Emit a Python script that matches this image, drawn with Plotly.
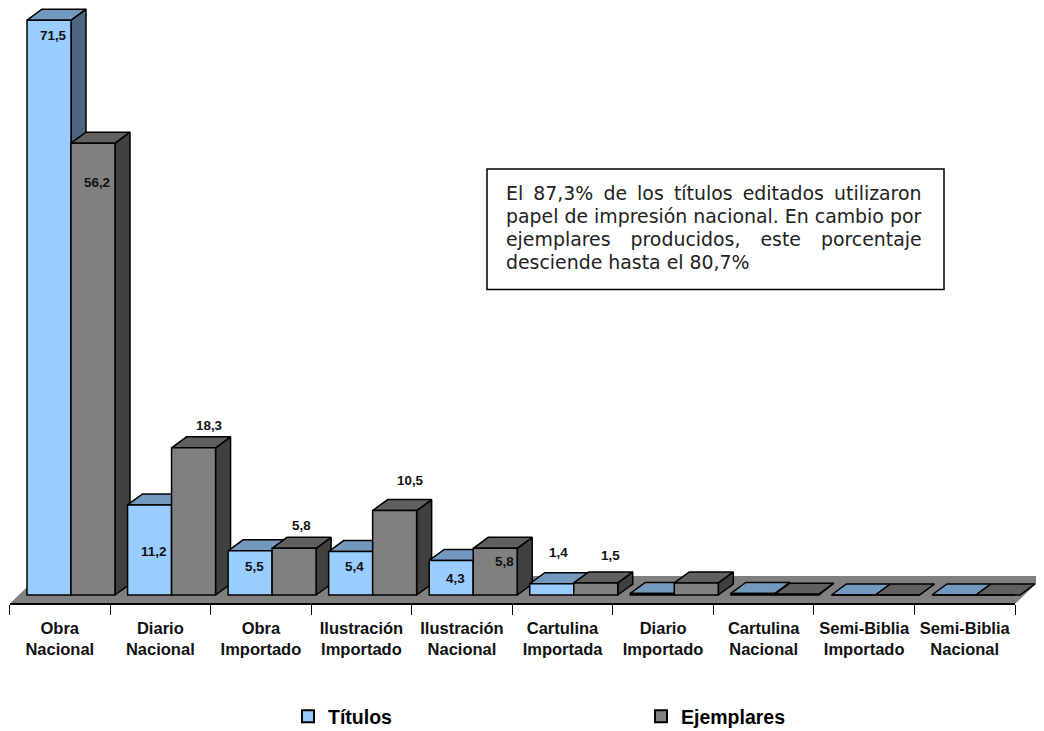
import plotly.graph_objects as go

CATEGORIES = ["Obra<br>Nacional", "Diario<br>Nacional", "Obra<br>Importado", "Ilustración<br>Importado",
              "Ilustración<br>Nacional", "Cartulina<br>Importada", "Diario<br>Importado", "Cartulina<br>Nacional",
              "Semi-Biblia<br>Importado", "Semi-Biblia<br>Nacional"]
TITULOS = [71.5, 11.2, 5.5, 5.4, 4.3, 1.4, 0.2, 0.2, 0, 0]
EJEMPLARES = [56.2, 18.3, 5.8, 10.5, 5.8, 1.5, 1.5, 0.1, 0, 0]
LABELS_T = ["71,5", "11,2", "5,5", "5,4", "4,3", "1,4"]
LABELS_E = ["56,2", "18,3", "5,8", "10,5", "5,8", "1,5"]
NOTE = ["El 87,3% de los títulos editados utilizaron",
        "papel de impresión nacional. En cambio por",
        "ejemplares producidos, este porcentaje",
        "desciende hasta el 80,7%"]

# label offsets in pixels from bar centre / bar top
DX_T = [4, 4, 4, 4, 4, 7]
DY_T = [-15, -47, -16, -15, -18, 31]
DX_E = [4, 15, 7, 16, 9, 15]
DY_E = [-39, 22, 23, 30, -13, 27]

W, H = 1044, 731
M = 8                  # page body margin
FW, FH = W - M, H - M
PX_X = 100.55          # px per category
PX_Y = 8.04            # px per value unit
X0, Y0 = 71, 595       # pixel of x=0, y=0
BAR_W = 44 / PX_X
DEPTH_X = 15 / PX_X
DEPTH_Y = 11 / PX_Y

def dx(px): return (px - X0) / PX_X
def dy(py): return (Y0 - py) / PX_Y
def fx(px): return (px - M) / FW
def fy(py): return 1 - (py - M) / FH

T_FRONT, T_SIDE, T_TOP = "#99CCFF", "#4D6680", "#7399BF"
E_FRONT, E_SIDE, E_TOP = "#808080", "#404040", "#606060"
EDGE = "#000000"

fig = go.Figure()

# floor
fig.add_trace(go.Scatter(
    x=[dx(9.5), dx(1015), dx(1044), dx(38.5), dx(9.5)],
    y=[dy(604), dy(604), dy(576), dy(576), dy(604)],
    fill="toself", fillcolor="#808080", mode="lines", line=dict(width=0),
    showlegend=False, hoverinfo="skip", xaxis="x", yaxis="y"))

def face(xs, ys, color):
    fig.add_trace(go.Scatter(x=xs, y=ys, fill="toself", fillcolor=color, mode="lines",
                             line=dict(color=EDGE, width=1.5), showlegend=False,
                             hoverinfo="skip", xaxis="x", yaxis="y"))

for i in range(len(CATEGORIES)):
    for (v, l, side, top) in ((TITULOS[i], i - BAR_W, T_SIDE, T_TOP),
                              (EJEMPLARES[i], i, E_SIDE, E_TOP)):
        r = l + BAR_W
        face([r, r + DEPTH_X, r + DEPTH_X, r, r],
             [0, DEPTH_Y, v + DEPTH_Y, v, 0], side)
        face([l, r, r + DEPTH_X, l + DEPTH_X, l],
             [v, v, v + DEPTH_Y, v + DEPTH_Y, v], top)

idx = list(range(len(CATEGORIES)))
fig.add_trace(go.Bar(x=idx, y=TITULOS, name="Títulos", marker=dict(color=T_FRONT, line=dict(color=EDGE, width=1.5)),
                     xaxis="x2", yaxis="y2", hoverinfo="y"))
fig.add_trace(go.Bar(x=idx, y=EJEMPLARES, name="Ejemplares", marker=dict(color=E_FRONT, line=dict(color=EDGE, width=1.5)),
                     xaxis="x2", yaxis="y2", hoverinfo="y"))

anns = []
def lab(x, y, text, xs, ys):
    anns.append(dict(x=x, y=y, xref="x2", yref="y2", text=text, showarrow=False, xshift=xs, yshift=ys,
                     xanchor="center", yanchor="middle",
                     font=dict(family="Liberation Sans", size=13.4, color="#111111"), ))

for i, t in enumerate(LABELS_T):
    lab(i - BAR_W / 2, TITULOS[i], f"<b>{t}</b>", DX_T[i], DY_T[i])
for i, t in enumerate(LABELS_E):
    lab(i + BAR_W / 2, EJEMPLARES[i], f"<b>{t}</b>", DX_E[i], DY_E[i])

WORD_SPACING = [4.1, 0, 14, 0]
for k, line in enumerate(NOTE):
    anns.append(dict(xref="paper", yref="paper", x=fx(504), y=fy(193 + 23 * k), showarrow=False,
                     xanchor="left", yanchor="middle",
                     text=f'<span style="word-spacing:{WORD_SPACING[k]}px">{line}</span>',
                     font=dict(family="DejaVu Sans", size=18.9, color="#222222")))

bounds = [dx(9.5) + j for j in range(11)]

fig.update_layout(
    width=FW, height=FH, autosize=False, margin=dict(l=0, r=0, t=0, b=0, autoexpand=False),
    paper_bgcolor="white", plot_bgcolor="rgba(0,0,0,0)",
    barmode="group", bargap=0.125, bargroupgap=0,
    annotations=anns,
    shapes=[dict(type="rect", xref="paper", yref="paper", x0=fx(487), x1=fx(944),
                 y0=fy(289.5), y1=fy(169), line=dict(color="#000000", width=1.5))],
    xaxis=dict(domain=[0, 1], range=[dx(M), dx(W)], showgrid=False, zeroline=False, showline=False,
               ticks="", anchor="free", position=fy(616), tickangle=0,
               tickmode="array", tickvals=[j + dx(9.5) + 0.5 for j in idx], ticktext=[f"<b>{c}</b>" for c in CATEGORIES],
               tickfont=dict(family="Liberation Sans", size=16.5, color="#111111")),
    yaxis=dict(domain=[0, 1], range=[dy(H), dy(M)], visible=False),
    xaxis2=dict(domain=[fx(9.5), fx(1015)], range=[dx(9.5), dx(1015)], anchor="free",
                position=fy(604), showgrid=False, zeroline=False, showline=True, linecolor="#000000", linewidth=1.5,
                ticks="outside", ticklen=10, tickwidth=1, tickcolor="#000000",
                tickmode="array", tickvals=bounds, ticktext=[""] * len(bounds)),
    yaxis2=dict(domain=[0, 1], range=[dy(H), dy(M)], anchor="x2", visible=False),
    legend=dict(orientation="h", x=fx(288), y=fy(697), xanchor="left", yanchor="top",
                entrywidth=308, entrywidthmode="pixels", bgcolor="rgba(0,0,0,0)",
                font=dict(family="Liberation Sans", size=19.5, color="#000000", weight="bold"),
                itemsizing="constant"),
)
fig.write_html("out.html")
